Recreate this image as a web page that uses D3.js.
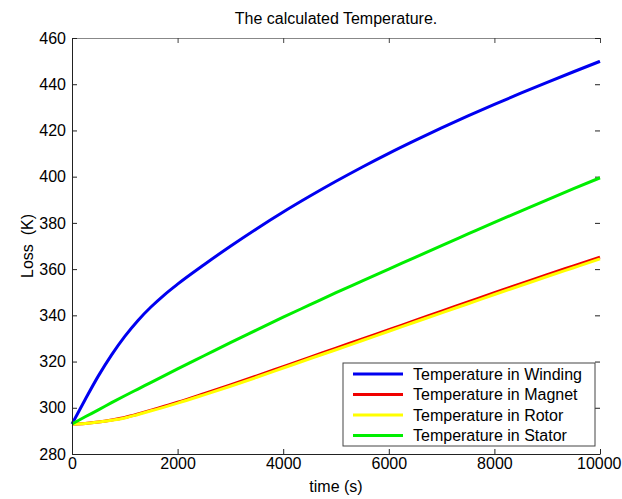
<!DOCTYPE html>
<html>
<head>
<meta charset="utf-8">
<script src="https://cdn.jsdelivr.net/npm/d3@7"></script>
<style>
    body { margin: 0; background: #fff; }
    svg text { font-family: "Liberation Sans", Arial, sans-serif; fill: #000; }
</style>
</head>
<body>
<svg id="chart" width="622" height="499"></svg>
<script>
// time samples (s) and temperatures (K)
const time = [0, 250, 500, 750, 1000, 1250, 1500, 1750, 2000, 2500, 3000, 3500, 4000,
    4500, 5000, 5500, 6000, 6500, 7000, 7500, 8000, 8500, 9000, 9500, 10000];
const winding = [293, 303.6, 313.8, 322.9, 330.9, 337.8, 343.7, 348.9, 353.5, 361.9, 369.9, 377.5, 384.7,
    391.5, 398.0, 404.2, 410.1, 415.7, 421.1, 426.3, 431.3, 436.1, 440.8, 445.4, 449.9];
const magnet = [293, 293.2, 293.8, 294.7, 295.8, 297.3, 299, 300.7, 302.4, 306.1, 309.9, 313.8, 317.8,
    321.8, 325.8, 329.8, 333.8, 337.8, 341.8, 345.8, 349.8, 353.7, 357.6, 361.4, 365.2];
const rotor = [293, 293.2, 293.8, 294.6, 295.6, 297.1, 298.7, 300.3, 302, 305.6, 309.3, 313.2, 317.2,
    321.2, 325.1, 329.1, 333.1, 337.1, 341.1, 345, 349, 352.9, 356.8, 360.6, 364.4];
const stator = [293, 296.1, 299.1, 302.2, 305.2, 308.1, 311, 313.9, 316.8, 322.5, 328.2, 333.7, 339.2,
    344.5, 349.8, 354.9, 360, 365.1, 370.2, 375.2, 380.2, 385.1, 390, 394.8, 399.5];

const seriesNames = ['Temperature in Winding', 'Temperature in Magnet', 'Temperature in Rotor', 'Temperature in Stator'];
const seriesColors = ['#0000f0', '#f00000', '#ffff00', '#00ee00'];
const xTicks = [0, 2000, 4000, 6000, 8000, 10000];
const yTicks = [280, 300, 320, 340, 360, 380, 400, 420, 440, 460];

const LEFT = 72, RIGHT = 600, TOP = 38, BOTTOM = 454;

const svg = d3.select('#chart');

const x = d3.scaleLinear().domain([0, 10000]).range([LEFT, RIGHT]);
const y = d3.scaleLinear().domain([280, 460]).range([BOTTOM, TOP]);

// top and right edges (ticks pointing inward)
const topAxis = svg.append('g').attr('transform', 'translate(0,' + TOP + ')')
    .call(d3.axisTop(x).tickValues(xTicks).tickSize(-5).tickSizeOuter(0).tickFormat(''));
topAxis.select('.domain').attr('stroke', '#888');
topAxis.selectAll('.tick line').attr('stroke', '#444');

const rightAxis = svg.append('g').attr('transform', 'translate(' + RIGHT + ',0)')
    .call(d3.axisRight(y).tickValues(yTicks).tickSize(-5).tickSizeOuter(0).tickFormat(''));
rightAxis.select('.domain').remove();
rightAxis.selectAll('.tick line').attr('stroke', '#222');

// curves
const line = d3.line()
    .x((d, i) => x(time[i]))
    .y(d => y(d))
    .curve(d3.curveMonotoneX);

[winding, magnet, rotor, stator].forEach((values, k) => {
    svg.append('path')
        .datum(values)
        .attr('d', line)
        .attr('fill', 'none')
        .attr('stroke', seriesColors[k])
        .attr('stroke-width', 3);
});

// left and bottom axes
const bottomAxis = svg.append('g').attr('transform', 'translate(0,' + BOTTOM + ')')
    .call(d3.axisBottom(x).tickValues(xTicks).tickSize(-5).tickSizeOuter(0).tickPadding(4)
        .tickFormat(d3.format('d')));
const leftAxis = svg.append('g').attr('transform', 'translate(' + LEFT + ',0)')
    .call(d3.axisLeft(y).tickValues(yTicks).tickSize(-5).tickSizeOuter(0).tickPadding(6)
        .tickFormat(d3.format('d')));

[bottomAxis, leftAxis].forEach(g => {
    g.select('.domain').attr('stroke', '#222');
    g.selectAll('.tick line').attr('stroke', '#222');
    g.selectAll('.tick text')
        .style('font-family', '"Liberation Sans", Arial, sans-serif')
        .style('font-size', '16px')
        .attr('fill', '#000');
});

// last x label would run off the page, keep it inside
bottomAxis.selectAll('.tick text')
    .filter(d => d === 10000)
    .attr('text-anchor', 'end')
    .attr('x', 21);

// titles
svg.append('text')
    .attr('x', (LEFT + RIGHT) / 2)
    .attr('y', 24)
    .attr('text-anchor', 'middle')
    .style('font-size', '16px')
    .text('The calculated Temperature.');

svg.append('text')
    .attr('x', (LEFT + RIGHT) / 2)
    .attr('y', 492)
    .attr('text-anchor', 'middle')
    .style('font-size', '16px')
    .text('time (s)');

svg.append('text')
    .attr('transform', 'translate(33,' + (TOP + BOTTOM) / 2 + ') rotate(-90)')
    .attr('text-anchor', 'middle')
    .style('font-size', '16px')
    .style('white-space', 'pre')
    .text('Loss  (K)');

// legend
const legend = svg.append('g').attr('transform', 'translate(343,363)');
legend.append('rect')
    .attr('width', 252)
    .attr('height', 83)
    .attr('fill', '#fff')
    .attr('stroke', '#444')
    .attr('stroke-width', 1);

seriesNames.forEach((name, k) => {
    const cy = 11 + k * 20.5;
    legend.append('line')
        .attr('x1', 10).attr('x2', 60)
        .attr('y1', cy).attr('y2', cy)
        .attr('stroke', seriesColors[k])
        .attr('stroke-width', 3);
    legend.append('text')
        .attr('x', 70)
        .attr('y', cy)
        .attr('dy', '0.35em')
        .style('font-size', '16px')
        .text(name);
});
</script>
</body>
</html>
